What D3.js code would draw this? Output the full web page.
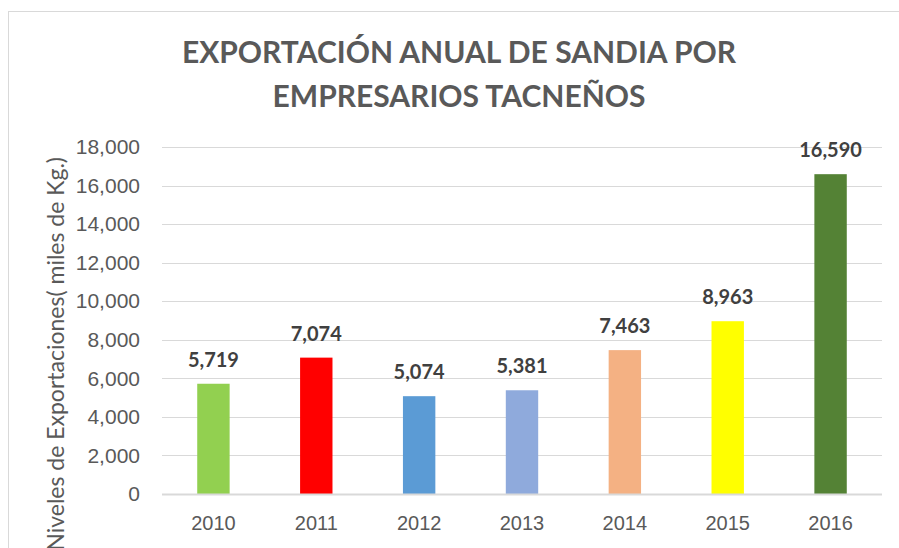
<!DOCTYPE html>
<html>
<head>
<meta charset="utf-8">
<script src="https://cdn.jsdelivr.net/npm/d3@7"></script>
<style>
  html, body { margin: 0; padding: 0; background: #fff; overflow: hidden; }
  svg { display: block; font-family: Lato, "Open Sans", sans-serif; }
  .tick text { fill: #595959; }
</style>
</head>
<body>
<div id="chart"></div>
<script>
const years = ["2010", "2011", "2012", "2013", "2014", "2015", "2016"];
const exports = [5719, 7074, 5074, 5381, 7463, 8963, 16590];
const barColors = ["#92d050", "#ff0000", "#5b9bd5", "#8faadc", "#f4b183", "#ffff00", "#548235"];
const yTicks = [0, 2000, 4000, 6000, 8000, 10000, 12000, 14000, 16000, 18000];
const titleLines = ["EXPORTACIÓN ANUAL DE SANDIA POR", "EMPRESARIOS TACNEÑOS"];
const yTitle = "Niveles de Exportaciones( miles de Kg.)";

const W = 899, H = 548;
const plot = { left: 162, right: 882, top: 147, bottom: 494 };

const svg = d3.select("#chart").append("svg")
    .attr("width", W)
    .attr("height", H);

// chart frame
svg.append("rect")
    .attr("x", 8.5).attr("y", 11.5)
    .attr("width", 1000).attr("height", 1000)
    .attr("fill", "none")
    .attr("stroke", "#d9d9d9");

const x = d3.scaleBand()
    .domain(years)
    .range([plot.left, plot.right])
    .paddingInner(0.685)
    .paddingOuter(0.3425);

const y = d3.scaleLinear()
    .domain([0, 18000])
    .range([plot.bottom, plot.top]);

// gridlines
svg.append("g")
    .selectAll("line")
    .data(yTicks.filter(t => t > 0))
    .enter()
    .append("line")
    .attr("x1", plot.left).attr("x2", plot.right)
    .attr("y1", d => Math.round(y(d)) + 0.5)
    .attr("y2", d => Math.round(y(d)) + 0.5)
    .attr("stroke", "#d9d9d9")
    .attr("stroke-width", 1);

// y axis labels
const yAxis = svg.append("g")
    .attr("transform", "translate(" + (plot.left - 22) + ",0)")
    .call(d3.axisLeft(y).tickValues(yTicks).tickFormat(d3.format(",")).tickSize(0).tickPadding(0));
yAxis.select(".domain").remove();
yAxis.selectAll("text").style("font-size", "21px");

// bars
svg.append("g")
    .selectAll("rect")
    .data(exports)
    .enter()
    .append("rect")
    .attr("x", (d, i) => x(years[i]))
    .attr("y", d => y(d))
    .attr("width", x.bandwidth())
    .attr("height", d => y(0) - y(d))
    .attr("fill", (d, i) => barColors[i]);

// baseline
svg.append("line")
    .attr("x1", plot.left).attr("x2", plot.right)
    .attr("y1", y(0) + 0.5).attr("y2", y(0) + 0.5)
    .attr("stroke", "#d9d9d9")
    .attr("stroke-width", 2);

// x axis labels
const xAxis = svg.append("g")
    .attr("transform", "translate(0," + (plot.bottom + 22) + ")")
    .call(d3.axisBottom(x).tickSize(0).tickPadding(0));
xAxis.select(".domain").remove();
xAxis.selectAll("text")
    .attr("dy", "0.71em")
    .style("font-size", "20px");

// data labels
svg.append("g")
    .selectAll("text")
    .data(exports)
    .enter()
    .append("text")
    .attr("x", (d, i) => x(years[i]) + x.bandwidth() / 2)
    .attr("y", d => y(d) - 17)
    .attr("text-anchor", "middle")
    .attr("fill", "#404040")
    .style("font-size", "20px")
    .style("font-weight", "bold")
    .text(d => d3.format(",")(d));

// title
svg.append("g")
    .selectAll("text")
    .data(titleLines)
    .enter()
    .append("text")
    .attr("x", 459)
    .attr("y", (d, i) => 63 + i * 44)
    .attr("text-anchor", "middle")
    .attr("fill", "#595959")
    .style("font-size", "30px")
    .style("font-weight", "bold")
    .text(d => d);

// y axis title
svg.append("text")
    .attr("transform", "translate(64,157) rotate(-90)")
    .attr("text-anchor", "end")
    .attr("fill", "#595959")
    .style("font-size", "23px")
    .text(yTitle);
</script>
</body>
</html>
